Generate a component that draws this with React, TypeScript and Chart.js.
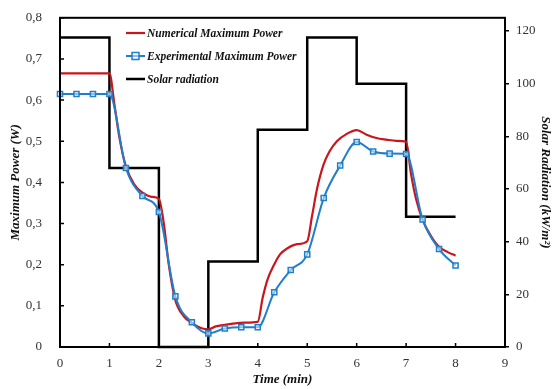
import { useEffect, useRef } from 'react';
import { Chart, registerables } from 'chart.js';

Chart.register(...registerables);

// Solar radiation (kW/m²), stepped, right axis
const solarTimes = [0, 1, 2, 3, 4, 5, 6, 7, 8];
const solarValues = [117.5, 68, 0, 32.5, 82.5, 117.5, 100, 49.5, 49.5];

// Experimental maximum power (W)
const expTimes = [0, 1 / 3, 2 / 3, 1, 4 / 3, 5 / 3, 2, 7 / 3, 8 / 3, 3, 10 / 3, 11 / 3, 4, 13 / 3, 14 / 3, 5, 16 / 3, 17 / 3, 6, 19 / 3, 20 / 3, 7, 22 / 3, 23 / 3, 8];
const expPower = [0.615, 0.615, 0.615, 0.615, 0.435, 0.367, 0.328, 0.123, 0.06, 0.033, 0.045, 0.048, 0.048, 0.133, 0.187, 0.225, 0.362, 0.441, 0.498, 0.475, 0.47, 0.469, 0.31, 0.238, 0.198];

// Numerical maximum power (W)
const numTimes = [0, 0.5, 1, 1.1, 1.2, 1.33, 1.5, 1.67, 1.85, 2, 2.1, 2.2, 2.33, 2.5, 2.67, 2.85, 3, 3.15, 3.33, 3.5, 3.75, 4, 4.1, 4.2, 4.33, 4.45, 4.6, 4.8, 5, 5.1, 5.2, 5.33, 5.45, 5.6, 5.8, 6, 6.2, 6.4, 6.6, 6.8, 7, 7.1, 7.2, 7.33, 7.5, 7.67, 7.85, 8];
const numPower = [0.665, 0.665, 0.665, 0.59, 0.51, 0.44, 0.395, 0.375, 0.365, 0.36, 0.3, 0.2, 0.115, 0.075, 0.058, 0.046, 0.043, 0.05, 0.054, 0.057, 0.059, 0.061, 0.12, 0.165, 0.2, 0.225, 0.24, 0.25, 0.257, 0.32, 0.385, 0.443, 0.475, 0.5, 0.518, 0.527, 0.516, 0.508, 0.504, 0.501, 0.499, 0.42, 0.36, 0.31, 0.27, 0.243, 0.23, 0.222];

// Right-axis tick labels
const y2Ticks = [0, 20, 40, 60, 80, 100, 120];

const seriesLabels = ['Numerical Maximum Power', 'Experimental Maximum Power', 'Solar radiation'];
const xTitle = 'Time (min)';
const yTitle = 'Maximum Power (W)';
const y2Title = 'Solar Radiation (kW/m²)';

const RED = '#C8161D';
const BLUE = '#1F7FCC';
const FONT = '"Liberation Serif", "Times New Roman", serif';

const overlayPlugin = {
  id: 'overlay',
  afterDraw(chart: any) {
    const { ctx, chartArea } = chart;
    const { left, right, top, bottom } = chartArea;
    const yS = chart.scales.y;
    const xS = chart.scales.x;
    ctx.save();
    // frame
    ctx.strokeStyle = '#000';
    ctx.lineWidth = 2;
    ctx.strokeRect(left, top, right - left, bottom - top);
    // inward ticks
    ctx.lineWidth = 1.5;
    ctx.beginPath();
    yS.ticks.forEach((t: any) => {
      const py = yS.getPixelForValue(t.value);
      ctx.moveTo(left, py);
      ctx.lineTo(left + 4, py);
    });
    xS.ticks.forEach((t: any) => {
      const px = xS.getPixelForValue(t.value);
      ctx.moveTo(px, bottom);
      ctx.lineTo(px, bottom - 4);
    });
    ctx.stroke();

    // legend
    const items = [
      { label: seriesLabels[0], color: RED, y: 33, marker: false, w: 2.2 },
      { label: seriesLabels[1], color: BLUE, y: 56, marker: true, w: 2 },
      { label: seriesLabels[2], color: '#000', y: 79, marker: false, w: 2.5 },
    ];
    ctx.font = `italic bold 11.5px ${FONT}`;
    ctx.textBaseline = 'middle';
    ctx.textAlign = 'left';
    items.forEach((it) => {
      ctx.strokeStyle = it.color;
      ctx.lineWidth = it.w;
      ctx.beginPath();
      ctx.moveTo(126, it.y);
      ctx.lineTo(145, it.y);
      ctx.stroke();
      if (it.marker) {
        ctx.lineWidth = 1.5;
        ctx.fillStyle = 'rgba(255,255,255,0.5)';
        ctx.fillRect(132, it.y - 3.5, 7, 7);
        ctx.strokeRect(132, it.y - 3.5, 7, 7);
      }
      ctx.fillStyle = '#111';
      ctx.fillText(it.label, 147, it.y + 1);
    });

    // axis titles
    ctx.fillStyle = '#111';
    ctx.font = `italic bold 13px ${FONT}`;
    ctx.textAlign = 'center';
    ctx.fillText(xTitle, (left + right) / 2, 380);
    ctx.save();
    ctx.translate(16, (top + bottom) / 2);
    ctx.rotate(-Math.PI / 2);
    ctx.fillText(yTitle, 0, 0);
    ctx.restore();
    ctx.save();
    ctx.translate(545, (top + bottom) / 2);
    ctx.rotate(Math.PI / 2);
    ctx.fillText(y2Title, 0, 0);
    ctx.restore();
    ctx.restore();
  },
};

export default function App() {
  const ref = useRef<HTMLCanvasElement | null>(null);
  useEffect(() => {
    document.body.style.margin = '0';
    if (!ref.current) return;
    const chart = new Chart(ref.current, {
      type: 'line',
      data: {
        datasets: [
          {
            label: seriesLabels[0],
            data: numTimes.map((x, i) => ({ x, y: numPower[i] })),
            borderColor: RED,
            borderWidth: 2.2,
            pointRadius: 0,
            cubicInterpolationMode: 'monotone',
            yAxisID: 'y',
            clip: false,
            order: 2,
          },
          {
            label: seriesLabels[1],
            data: expTimes.map((x, i) => ({ x, y: expPower[i] })),
            borderColor: BLUE,
            borderWidth: 2,
            pointStyle: 'rect',
            pointRadius: 3.6,
            pointBorderWidth: 1.5,
            pointBorderColor: BLUE,
            pointBackgroundColor: 'rgba(255,255,255,0.5)',
            cubicInterpolationMode: 'monotone',
            yAxisID: 'y',
            clip: false,
            order: 1,
          },
          {
            label: seriesLabels[2],
            data: solarTimes.map((x, i) => ({ x, y: solarValues[i] })),
            borderColor: '#000',
            borderWidth: 2.5,
            pointRadius: 0,
            stepped: true,
            yAxisID: 'y2',
            clip: false,
            order: 3,
          },
        ],
      } as any,
      options: {
        animation: false,
        responsive: false,
        layout: { padding: { top: 9, left: 0, right: 0, bottom: 0 } },
        plugins: { legend: { display: false }, tooltip: { enabled: false } },
        scales: {
          x: {
            type: 'linear',
            min: 0,
            max: 9,
            ticks: { stepSize: 1, font: { family: FONT, size: 13 }, color: '#333', padding: 1 },
            grid: { display: false },
            border: { display: false },
            afterFit: (s: any) => { s.height = 42; },
          },
          y: {
            position: 'left',
            min: 0,
            max: 0.8,
            ticks: {
              stepSize: 0.1,
              font: { family: FONT, size: 13 },
              color: '#333',
              padding: 10,
              callback: (v: any) => (Math.abs(v) < 1e-9 ? '0' : Number(v).toFixed(1).replace('.', ',')),
            },
            grid: { display: false },
            border: { display: false },
            afterFit: (s: any) => { s.width = 60; },
          },
          y2: {
            position: 'right',
            min: 0,
            max: 125,
            ticks: { font: { family: FONT, size: 13 }, color: '#333', padding: 7 },
            afterBuildTicks: (s: any) => { s.ticks = y2Ticks.map((v) => ({ value: v })); },
            grid: { drawOnChartArea: false, tickLength: 4, color: '#000', lineWidth: 1.5 },
            border: { display: false },
            afterFit: (s: any) => { s.width = 47; },
          },
        },
      } as any,
      plugins: [overlayPlugin],
    });
    return () => chart.destroy();
  }, []);
  return (
    <div style={{ position: 'absolute', left: 0, top: 0, width: 552, height: 389, background: '#fff' }}>
      <canvas ref={ref} width={552} height={389} style={{ display: 'block' }} />
    </div>
  );
}
